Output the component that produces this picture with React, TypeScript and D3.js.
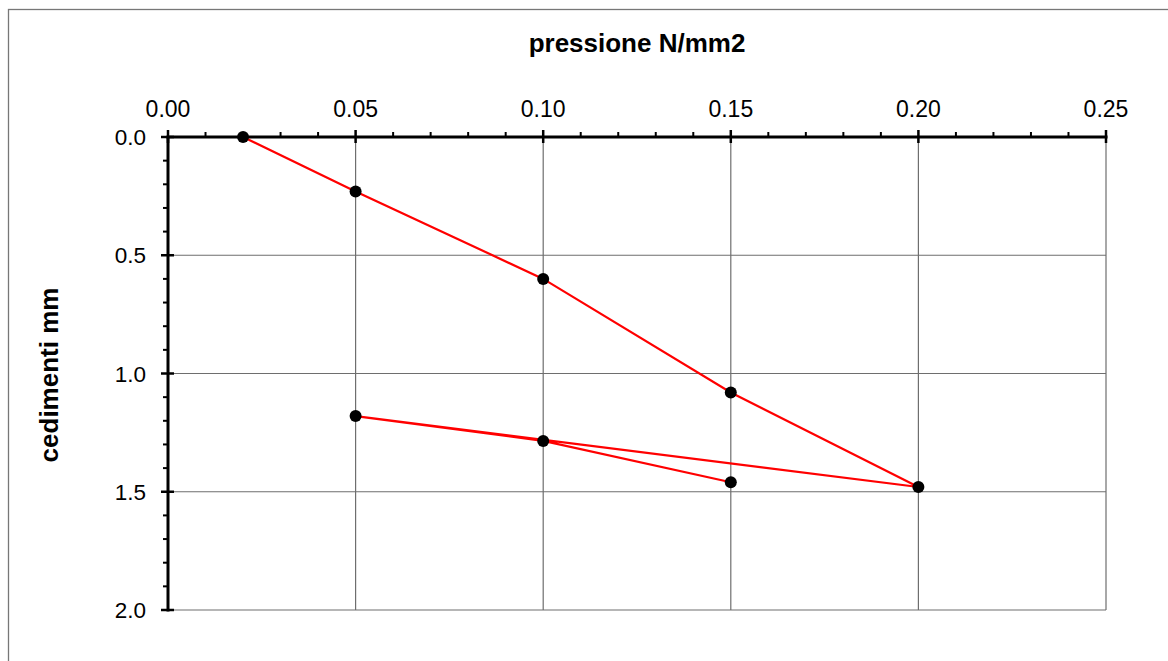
import React, { useEffect, useRef } from "react";
import * as d3 from "d3";

const pressure = [0.02, 0.05, 0.1, 0.15, 0.2, 0.05, 0.1, 0.15];
const settlement = [0.0, 0.23, 0.6, 1.08, 1.48, 1.18, 1.285, 1.46];
const xTicks = [0, 0.05, 0.1, 0.15, 0.2, 0.25];
const yTicks = [0, 0.5, 1.0, 1.5, 2.0];
const xTitle = "pressione N/mm2";
const yTitle = "cedimenti mm";

export default function App() {
  const ref = useRef<SVGSVGElement>(null);
  useEffect(() => {
    const svg = d3.select(ref.current);
    svg.selectAll("*").remove();
    const W = 1168, H = 661;
    const x = d3.scaleLinear().domain([0, 0.25]).range([168, 1106]);
    const y = d3.scaleLinear().domain([0, 2]).range([137, 610]);
    const font = "Liberation Sans, Arial, sans-serif";

    svg.append("rect").attr("x", 8.5).attr("y", 9.5).attr("width", W).attr("height", H)
      .attr("fill", "white").attr("stroke", "#777").attr("stroke-width", 1.3);

    // gridlines
    const grid = svg.append("g").attr("stroke", "#6e6e6e").attr("stroke-width", 1.2);
    xTicks.slice(1).forEach(t => {
      grid.append("line").attr("x1", x(t)).attr("x2", x(t)).attr("y1", y(0)).attr("y2", y(2));
    });
    yTicks.slice(1).forEach(t => {
      grid.append("line").attr("x1", x(0)).attr("x2", x(0.25)).attr("y1", y(t)).attr("y2", y(t));
    });

    // axes
    const ax = svg.append("g").attr("stroke", "black");
    ax.append("line").attr("x1", x(0) - 1.5).attr("x2", x(0.25) + 1.5).attr("y1", y(0)).attr("y2", y(0)).attr("stroke-width", 3);
    ax.append("line").attr("x1", x(0)).attr("x2", x(0)).attr("y1", y(0)).attr("y2", y(2) + 1.5).attr("stroke-width", 3);
    d3.range(0, 26).forEach(i => {
      const v = i / 100;
      const major = i % 5 === 0;
      ax.append("line").attr("x1", x(v)).attr("x2", x(v))
        .attr("y1", major ? y(0) - 7 : y(0) - 5).attr("y2", major ? y(0) + 6 : y(0))
        .attr("stroke-width", major ? 2.5 : 2);
    });
    d3.range(0, 21).forEach(i => {
      const v = i / 10;
      const major = i % 5 === 0;
      ax.append("line").attr("y1", y(v)).attr("y2", y(v))
        .attr("x1", major ? x(0) - 7 : x(0) - 5).attr("x2", major ? x(0) + 6 : x(0))
        .attr("stroke-width", major ? 2.5 : 2);
    });

    // tick labels
    svg.append("g").selectAll("text").data(xTicks).join("text")
      .attr("x", d => x(d)).attr("y", 117).attr("text-anchor", "middle")
      .attr("font-family", font).attr("font-size", 23).text(d => d.toFixed(2));
    svg.append("g").selectAll("text").data(yTicks).join("text")
      .attr("x", 146).attr("y", d => y(d) + 8).attr("text-anchor", "end")
      .attr("font-family", font).attr("font-size", 22.5).text(d => d.toFixed(1));

    // titles
    svg.append("text").attr("x", 637).attr("y", 52).attr("text-anchor", "middle")
      .attr("font-family", font).attr("font-size", 26).attr("font-weight", "bold").text(xTitle);
    svg.append("text").attr("transform", "translate(58,375) rotate(-90)").attr("text-anchor", "middle")
      .attr("font-family", font).attr("font-size", 26).attr("font-weight", "bold").text(yTitle);

    // data
    const pts = pressure.map((p, i) => [p, settlement[i]] as [number, number]);
    const line = d3.line<[number, number]>().x(d => x(d[0])).y(d => y(d[1]));
    svg.append("path").attr("d", line(pts)).attr("fill", "none").attr("stroke", "#ff0000").attr("stroke-width", 2.2);
    svg.append("g").selectAll("circle").data(pts).join("circle")
      .attr("cx", d => x(d[0])).attr("cy", d => y(d[1])).attr("r", 6).attr("fill", "black");
  }, []);
  return <svg ref={ref} width={1168} height={661} style={{ display: "block", position: "absolute", left: 0, top: 0 }} />;
}
